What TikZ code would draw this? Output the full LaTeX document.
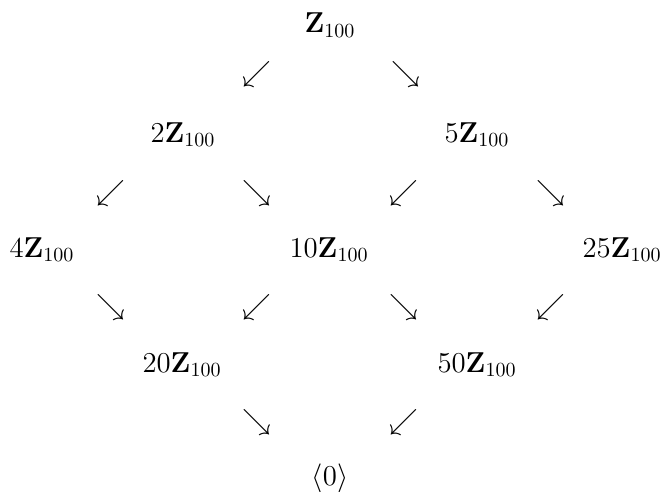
\documentclass[tikz,border=0pt]{standalone}
\usepackage{amsmath}
\begin{document}
\begin{tikzpicture}[x=0.5pt,y=-0.5pt,
  grp/.style={inner sep=0pt,anchor=base,font=\Large},
  arr/.style={inner sep=0pt,anchor=center,font=\Large}]
\useasboundingbox (0,0) rectangle (664,492);
% subgroups
\node[grp] (z)   at (330,33)  {$\mathbf{Z}_{100}$};
\node[grp] (z2)  at (183,142) {$2\mathbf{Z}_{100}$};
\node[grp] (z5)  at (477,142) {$5\mathbf{Z}_{100}$};
\node[grp] (z4)  at (42,257)  {$4\mathbf{Z}_{100}$};
\node[grp] (z10) at (329,257) {$10\mathbf{Z}_{100}$};
\node[grp] (z25) at (622,257) {$25\mathbf{Z}_{100}$};
\node[grp] (z20) at (182,372) {$20\mathbf{Z}_{100}$};
\node[grp] (z50) at (477,372) {$50\mathbf{Z}_{100}$};
\node[grp] (z0)  at (330,485) {$\langle 0\rangle$};
% arrows
\node[arr] (a1) at (257,74)  {$\swarrow$};
\node[arr] (a2) at (406,74)  {$\searrow$};
\node[arr] (a3) at (111,193) {$\swarrow$};
\node[arr] (a4) at (257,193) {$\searrow$};
\node[arr] (a5) at (404,193) {$\swarrow$};
\node[arr] (a6) at (551,193) {$\searrow$};
\node[arr] (a7) at (111,307) {$\searrow$};
\node[arr] (a8) at (257,307) {$\swarrow$};
\node[arr] (a9) at (404,307) {$\searrow$};
\node[arr] (a10) at (551,307) {$\swarrow$};
\node[arr] (a11) at (257,422) {$\searrow$};
\node[arr] (a12) at (404,422) {$\swarrow$};
\end{tikzpicture}
\end{document}
